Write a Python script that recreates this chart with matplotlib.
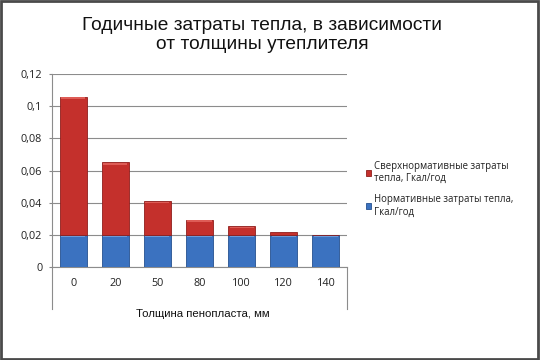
import matplotlib
matplotlib.use("Agg")
import matplotlib.pyplot as plt
from matplotlib.patches import Rectangle
import numpy as np

categories = ["0", "20", "50", "80", "100", "120", "140"]
normative = [0.02, 0.02, 0.02, 0.02, 0.02, 0.02, 0.02]
excess = [0.086, 0.045, 0.021, 0.0095, 0.0055, 0.0017, 0.0]
y_ticks = [0, 0.02, 0.04, 0.06, 0.08, 0.1, 0.12]
y_tick_labels = ["0", "0,02", "0,04", "0,06", "0,08", "0,1", "0,12"]
title = "Годичные затраты тепла, в зависимости\nот толщины утеплителя"
xlabel = "Толщина пенопласта, мм"
label_excess = "Сверхнормативные затраты\nтепла, Гкал/год"
label_norm = "Нормативные затраты тепла,\nГкал/год"

fam_body = ["Open Sans", "DejaVu Sans"]
fam_title = ["Liberation Sans", "DejaVu Sans"]

fig = plt.figure(figsize=(5.4, 3.6), dpi=100)
ax = fig.add_axes([52/540, 1-267/360, 295/540, 193/360])

x = np.arange(len(categories))
w = 0.64
b1 = ax.bar(x, normative, w, color="#3B72C0", edgecolor="#25508f", linewidth=0.6, zorder=3, label=label_norm)
b2 = ax.bar(x, excess, w, bottom=normative, color="#C4302C", edgecolor="#8f1e1c", linewidth=0.6, zorder=3, label=label_excess)
# subtle highlight strips near top of each segment
for i in range(len(categories)):
    ax.bar(x[i], 0.0009, w*0.9, bottom=normative[i]-0.0014, color="#6d9ad8", linewidth=0, zorder=4)
    if excess[i] > 0.0025:
        ax.bar(x[i], 0.0009, w*0.9, bottom=normative[i]+excess[i]-0.0014, color="#de5c56", linewidth=0, zorder=4)

ax.set_xlim(-0.5, len(categories)-0.5)
ax.set_ylim(0, 0.12)
ax.set_yticks(y_ticks)
ax.set_yticklabels(y_tick_labels, family=fam_body, fontsize=7.8, color="#222222")
ax.set_xticks(x)
ax.set_xticklabels(categories, family=fam_body, fontsize=7.8, color="#222222")
ax.tick_params(axis="x", length=0, pad=8)
ax.tick_params(axis="y", length=2, color="#888888", pad=5)
ax.yaxis.grid(True, color="#8c8c8c", linewidth=0.8, zorder=0)
ax.set_axisbelow(True)
for s in ["top", "right"]:
    ax.spines[s].set_visible(False)
ax.spines["left"].set_color("#8c8c8c")
ax.spines["bottom"].set_color("#8c8c8c")
# long edge ticks of the category axis
for xv in (0, 1):
    ax.plot([xv, xv], [0, -0.22], transform=ax.transAxes, color="#8c8c8c", lw=0.8, clip_on=False)

fig.text(203/540, 1-314/360, xlabel, ha="center", va="center", family=fam_title, fontsize=8.2, color="#111111")
fig.text(262/540, 1-35/360, title, ha="center", va="center", family=fam_title, fontsize=13.8, color="#111111", linespacing=1.12)

fig.legend(handles=[b2, b1], labels=[label_excess, label_norm], loc="upper left",
           bbox_to_anchor=(357/540, 1-152/360), frameon=False, prop={"family": fam_body, "size": 6.9},
           handlelength=0.6, handleheight=0.6, handletextpad=0.3, labelspacing=1.0, labelcolor="#222222")

fig.patches.append(Rectangle((0.002, 0.003), 0.995, 0.994, transform=fig.transFigure, fill=False,
                             edgecolor="#4a4a4a", linewidth=2))
fig.savefig("out.png", dpi=100)
